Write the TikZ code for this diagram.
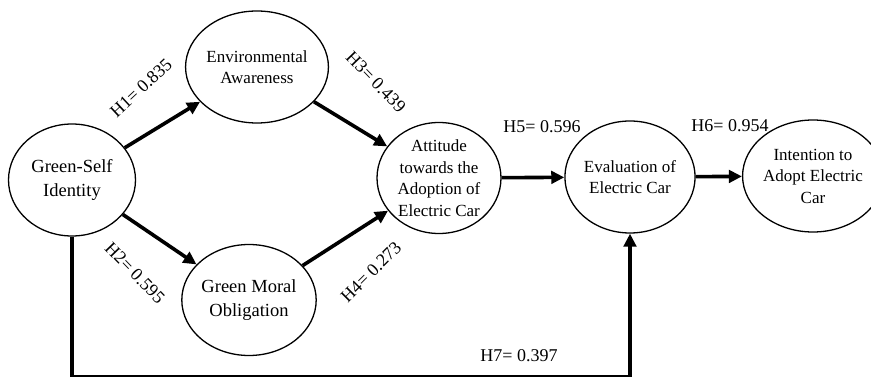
\documentclass[tikz,border=0pt]{standalone}
\usepackage{fontspec}
\setmainfont{Liberation Serif}
\usetikzlibrary{arrows.meta,shapes.geometric}
\begin{document}
\begin{tikzpicture}[x=1pt,y=-1pt,
  construct/.style={ellipse,draw,line width=1.3pt,align=center,inner sep=0pt,
    font=\fontsize{17}{21.5}\selectfont},
  bigtext/.style={font=\fontsize{18.5}{24.5}\selectfont},
  path/.style={line width=3.6pt,-{Triangle[length=13pt,width=12.5pt]}},
  plain/.style={line width=3.6pt},
  coef/.style={font=\fontsize{18}{20}\selectfont,inner sep=0pt}]
\useasboundingbox (0,0) rectangle (871,377);

% constructs
\node[construct,bigtext,minimum width=127pt,minimum height=112pt] (gs) at (72,180) {Green-Self\\Identity};
\node[construct,minimum width=127pt,minimum height=112pt] (ea) at (257,67) {Environmental\\Awareness};
\node[construct,bigtext,minimum width=127pt,minimum height=111pt] (gmo) at (249,300) {Green Moral\\Obligation};
\node[construct,minimum width=124pt,minimum height=111pt] (att) at (439,178) {Attitude\\towards the\\Adoption of\\Electric Car};
\node[construct,minimum width=127pt,minimum height=112pt] (ev) at (630,177) {Evaluation of\\Electric Car};
\node[construct,minimum width=115pt,minimum height=112pt] (int) at (813,176) {Intention to\\Adopt Electric\\Car};

% structural paths
\draw[path] (gs) -- (ea);
\draw[path] (gs) -- (gmo);
\draw[path] (ea) -- (att);
\draw[path] (gmo) -- (att);
\draw[path] (att) -- (ev);
\draw[path] (ev) -- (int);

% direct path from identity to evaluation along the bottom edge
\coordinate (c1) at (72,377);
\coordinate (c2) at (630,377);
\draw[plain] (gs.south) -- (c1) -- (c2);
\draw[path] (c2) -- (ev.south);

% path coefficients
\node[coef,rotate=43] (h1) at (141,88) {H1= 0.835};
\node[coef,rotate=-46] (h2) at (135,273) {H2= 0.595};
\node[coef,rotate=-46] (h3) at (376,82) {H3= 0.439};
\node[coef,rotate=45] (h4) at (371,272) {H4= 0.273};
\node[coef] (h5) at (542,127) {H5= 0.596};
\node[coef] (h6) at (730,126) {H6= 0.954};
\node[coef] (h7) at (519,356) {H7= 0.397};
\end{tikzpicture}
\end{document}
